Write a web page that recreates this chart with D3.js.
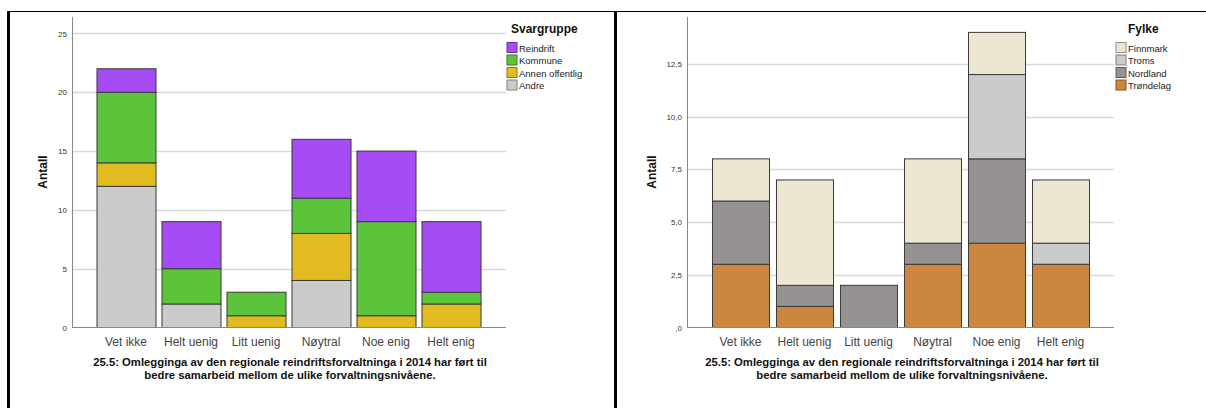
<!DOCTYPE html>
<html>
<head>
<meta charset="utf-8">
<script src="https://cdn.jsdelivr.net/npm/d3@7"></script>
<style>
  body { margin: 0; background: #fff; }
  text { font-family: "Liberation Sans", Arial, sans-serif; }
</style>
</head>
<body>
<svg id="chart" width="1206" height="408"></svg>
<script>
// Categories (x axis)
var categories = ["Vet ikke", "Helt uenig", "Litt uenig", "Nøytral", "Noe enig", "Helt enig"];

// Left chart: Svargruppe (stacked bottom -> top)
var groupsLeft = ["Andre", "Annen offentlig", "Kommune", "Reindrift"];
var andre      = [12, 2, 0, 4, 0, 0];
var annenOff   = [2, 0, 1, 4, 1, 2];
var kommune    = [6, 3, 2, 3, 8, 1];
var reindrift  = [2, 4, 0, 5, 6, 6];
var ticksLeft  = [0, 5, 10, 15, 20, 25];
var tickLabelsLeft = ["0", "5", "10", "15", "20", "25"];

// Right chart: Fylke (stacked bottom -> top)
var groupsRight = ["Trøndelag", "Nordland", "Troms", "Finnmark"];
var trondelag  = [3, 1, 0, 3, 4, 3];
var nordland   = [3, 1, 2, 1, 4, 0];
var troms      = [0, 0, 0, 0, 4, 1];
var finnmark   = [2, 5, 0, 4, 2, 3];
var ticksRight = [0, 2.5, 5, 7.5, 10, 12.5];
var tickLabelsRight = [",0", "2,5", "5,0", "7,5", "10,0", "12,5"];

var titleLines = ["25.5: Omlegginga av den regionale reindriftsforvaltninga i 2014 har ført til",
                  "bedre samarbeid mellom de ulike forvaltningsnivåene."];

var svg = d3.select("#chart");

// table frame
svg.append("line").attr("x1", 7).attr("x2", 1206).attr("y1", 11.5).attr("y2", 11.5)
  .attr("stroke", "#000").attr("stroke-width", 1.2);
svg.append("rect").attr("x", 7).attr("y", 11).attr("width", 3).attr("height", 397).attr("fill", "#000");
svg.append("rect").attr("x", 614).attr("y", 11).attr("width", 3).attr("height", 397).attr("fill", "#000");

function drawPanel(cfg) {
  var g = svg.append("g");

  var rows = categories.map(function(c, i) {
    var r = {cat: c};
    cfg.groups.forEach(function(k, j) { r[k] = cfg.series[j][i]; });
    return r;
  });
  var stacked = d3.stack().keys(cfg.groups)(rows);

  var y = d3.scaleLinear().domain([0, cfg.yMax]).range([327.5, 17]);
  var x = d3.scaleBand().domain(categories)
    .range(cfg.xRange).paddingInner(cfg.pad).paddingOuter(cfg.pad / 2);

  // gridlines
  g.selectAll(".grid").data(cfg.ticks.slice(1)).enter().append("line")
    .attr("x1", cfg.axisX).attr("x2", cfg.gridEnd)
    .attr("y1", function(d) { return Math.round(y(d)) + 0.5; })
    .attr("y2", function(d) { return Math.round(y(d)) + 0.5; })
    .attr("stroke", "#d9d9d9").attr("stroke-width", 1.3);

  // y axis
  var yAxis = d3.axisLeft(y).tickValues(cfg.ticks)
    .tickFormat(function(d, i) { return cfg.tickLabels[i]; })
    .tickSize(0).tickPadding(5);
  var ya = g.append("g").attr("transform", "translate(" + cfg.axisX + ",0)").call(yAxis);
  ya.select(".domain").remove();
  ya.selectAll("text").attr("font-size", 8).attr("fill", "#333")
    .attr("font-family", "'Liberation Sans', Arial, sans-serif");

  g.append("line").attr("x1", cfg.axisX + 0.5).attr("x2", cfg.axisX + 0.5)
    .attr("y1", 17).attr("y2", 328).attr("stroke", "#888").attr("stroke-width", 1);

  // bars
  g.selectAll(".layer").data(stacked).enter().append("g")
    .attr("fill", function(d, i) { return cfg.colors[i]; })
    .selectAll("rect").data(function(d) { return d.filter(function(s) { return s[1] > s[0]; }); })
    .enter().append("rect")
      .attr("x", function(d) { return x(d.data.cat) + 0.5; })
      .attr("width", x.bandwidth())
      .attr("y", function(d) { return y(d[1]); })
      .attr("height", function(d) { return y(d[0]) - y(d[1]); })
      .attr("stroke", "#3a3a3a").attr("stroke-width", 1);

  // baseline
  g.append("line").attr("x1", cfg.axisX).attr("x2", cfg.gridEnd)
    .attr("y1", 327.5).attr("y2", 327.5).attr("stroke", "#888").attr("stroke-width", 1);

  // x axis labels
  var xAxis = d3.axisBottom(x).tickSize(0).tickPadding(9);
  var xa = g.append("g").attr("transform", "translate(0,328)").call(xAxis);
  xa.select(".domain").remove();
  xa.selectAll("text").attr("font-size", 12).attr("fill", "#444")
    .attr("font-family", "'Liberation Sans', Arial, sans-serif");

  // y axis title
  g.append("text")
    .attr("transform", "translate(" + cfg.labelX + ",172) rotate(-90)")
    .attr("text-anchor", "middle")
    .attr("font-size", 12).attr("font-weight", "bold").attr("fill", "#111")
    .text("Antall");

  // chart title
  g.selectAll(".title").data(titleLines).enter().append("text")
    .attr("x", cfg.titleX).attr("y", function(d, i) { return 366 + i * 12.5; })
    .attr("text-anchor", "middle")
    .attr("font-size", 11.3).attr("font-weight", "bold").attr("fill", "#111")
    .text(function(d) { return d; });

  // legend
  var lg = g.append("g").attr("transform", "translate(" + cfg.legendX + ",0)");
  lg.append("text").attr("x", cfg.legendTitleDx).attr("y", 33)
    .attr("font-size", 12).attr("font-weight", "bold").attr("fill", "#111")
    .text(cfg.legendTitle);
  var order = cfg.groups.slice().reverse();
  var colorsRev = cfg.colors.slice().reverse();
  var items = lg.selectAll(".item").data(order).enter().append("g")
    .attr("transform", function(d, i) { return "translate(0," + (42.5 + i * 12.5) + ")"; });
  items.append("rect").attr("width", 10).attr("height", 10)
    .attr("fill", function(d, i) { return colorsRev[i]; })
    .attr("stroke", function(d, i) { return d3.color(colorsRev[i]).darker(1.3); })
    .attr("stroke-width", 1);
  items.append("text").attr("x", 12).attr("y", 9)
    .attr("font-size", 9.5).attr("fill", "#222")
    .text(function(d) { return d; });
}

drawPanel({
  groups: groupsLeft,
  series: [andre, annenOff, kommune, reindrift],
  colors: ["#cbcbcb", "#e1bb1f", "#5cc43b", "#a64cf4"],
  ticks: ticksLeft, tickLabels: tickLabelsLeft,
  yMax: 26.4,
  xRange: [93.5, 483.5], pad: 0.092,
  axisX: 72, gridEnd: 506, labelX: 47,
  titleX: 290,
  legendX: 507, legendTitleDx: 4, legendTitle: "Svargruppe"
});

drawPanel({
  groups: groupsRight,
  series: [trondelag, nordland, troms, finnmark],
  colors: ["#cd863f", "#969291", "#cbcbcb", "#ece6d2"],
  ticks: ticksRight, tickLabels: tickLabelsRight,
  yMax: 14.73,
  xRange: [708.5, 1092.5], pad: 0.109,
  axisX: 687, gridEnd: 1114, labelX: 656,
  titleX: 902,
  legendX: 1116, legendTitleDx: 12, legendTitle: "Fylke"
});
</script>
</body>
</html>
